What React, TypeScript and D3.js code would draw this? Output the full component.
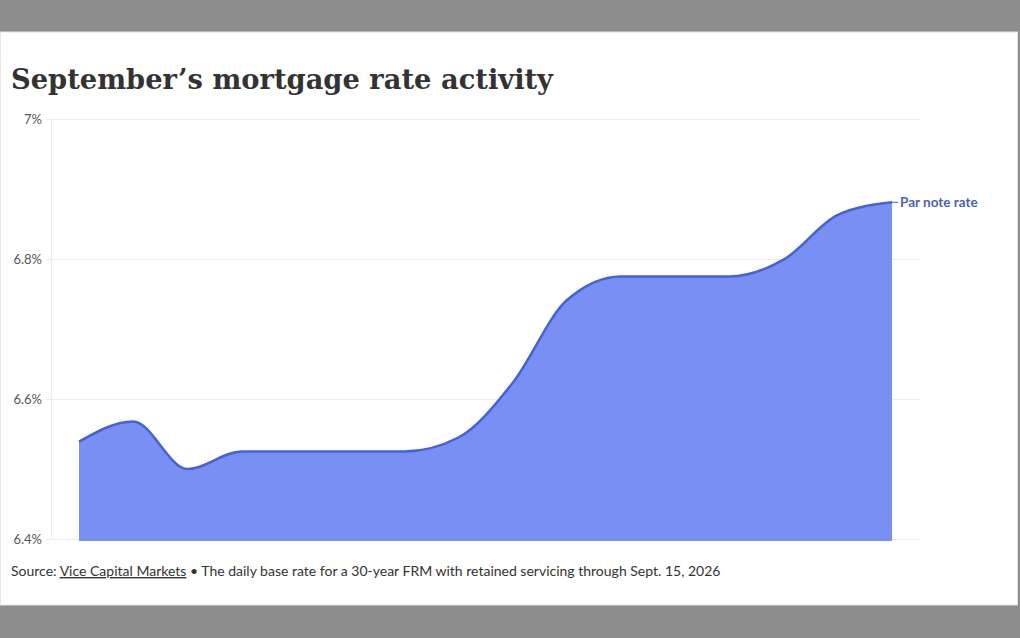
import React, { useEffect, useRef } from "react";
import * as d3 from "d3";

// daily par note rate, Sept 1 - 16
const days = [1, 2, 3, 4, 5, 6, 7, 8, 9, 10, 11, 12, 13, 14, 15, 16];
const rates = [
  6.539, 6.568, 6.5, 6.525, 6.525, 6.525, 6.525, 6.545, 6.623, 6.741, 6.775,
  6.775, 6.775, 6.799, 6.863, 6.881,
];
const yTicks = [6.4, 6.6, 6.8, 7.0];
const tickLabels = ["6.4%", "6.6%", "6.8%", "7%"];

const W = 1020;
const H = 638;

const App: React.FC = () => {
  const svgRef = useRef<SVGSVGElement>(null);

  useEffect(() => {
    const svg = d3.select(svgRef.current);
    svg.selectAll("*").remove();

    const marginLeft = 51;
    const plotRight = 920;
    const top = 119;
    const bottom = 539;

    // page background + card
    svg.append("rect").attr("width", W).attr("height", H).attr("fill", "#8d8d8d");
    svg
      .append("rect")
      .attr("x", 0.5)
      .attr("y", 32)
      .attr("width", 1017)
      .attr("height", 573)
      .attr("fill", "#fff")
      .attr("stroke", "#e4e4e4")
      .attr("stroke-width", 1);

    svg
      .append("text")
      .attr("x", 11)
      .attr("y", 89)
      .attr("font-family", "'DejaVu Serif', serif")
      .attr("font-weight", "bold")
      .attr("font-size", "28px")
      .attr("fill", "#333")
      .attr("textLength", 542)
      .attr("lengthAdjust", "spacingAndGlyphs")
      .text("September\u2019s mortgage rate activity");

    const xScale = d3
      .scaleLinear()
      .domain([days[0], days[days.length - 1]])
      .range([79, 892]);

    const yScale = d3.scaleLinear().domain([6.4, 7.0]).range([bottom, top]);

    yTicks.forEach((t, i) => {
      svg
        .append("line")
        .attr("x1", 46)
        .attr("x2", plotRight)
        .attr("y1", yScale(t) + 0.5)
        .attr("y2", yScale(t) + 0.5)
        .attr("stroke", "#ebebeb")
        .attr("stroke-width", 1);

      svg
        .append("text")
        .attr("x", 42)
        .attr("y", yScale(t))
        .attr("dy", 5)
        .attr("font-family", "Lato, sans-serif")
        .attr("font-size", "13px")
        .attr("text-anchor", "end")
        .attr("fill", "#555")
        .text(tickLabels[i]);
    });

    svg
      .append("line")
      .attr("x1", marginLeft + 0.5)
      .attr("x2", marginLeft + 0.5)
      .attr("y1", top)
      .attr("y2", bottom)
      .attr("stroke", "#ebebeb")
      .attr("stroke-width", 1);

    const area: any = d3
      .area<number>()
      .x((_, i) => xScale(days[i]))
      .y0(bottom + 2)
      .y1((d) => yScale(d))
      .curve(d3.curveMonotoneX);

    const line: any = d3
      .line<number>()
      .x((_, i) => xScale(days[i]))
      .y((d) => yScale(d))
      .curve(d3.curveMonotoneX);

    svg.append("path").datum(rates).attr("fill", "#7a8ff4").attr("d", area);

    svg
      .append("path")
      .datum(rates)
      .attr("fill", "none")
      .attr("stroke", "#4561d6")
      .attr("stroke-width", 2.5)
      .attr("d", line);

    const last = rates[rates.length - 1];
    svg
      .append("line")
      .attr("x1", xScale(days[days.length - 1]))
      .attr("x2", xScale(days[days.length - 1]) + 6)
      .attr("y1", yScale(last))
      .attr("y2", yScale(last))
      .attr("stroke", "#4561d6")
      .attr("stroke-width", 1);

    svg
      .append("text")
      .attr("x", xScale(days[days.length - 1]) + 8)
      .attr("y", yScale(last))
      .attr("dy", 4.5)
      .attr("font-family", "Lato, sans-serif")
      .attr("font-weight", "bold")
      .attr("font-size", "13.5px")
      .attr("fill", "#4a62b8")
      .text("Par note rate");

    const foot = svg
      .append("text")
      .attr("x", 11)
      .attr("y", 576)
      .attr("font-family", "Lato, sans-serif")
      .attr("font-size", "14px")
      .attr("fill", "#333");
    foot.append("tspan").text("Source: ");
    foot
      .append("tspan")
      .attr("text-decoration", "underline")
      .text("Vice Capital Markets");
    foot
      .append("tspan")
      .text(" \u2022 The daily base rate for a 30-year FRM with retained servicing through Sept. 15, 2026");
  }, []);

  return (
    <svg
      ref={svgRef}
      width={W}
      height={H}
      style={{ position: "absolute", left: 0, top: 0, display: "block" }}
    />
  );
};

export default App;
